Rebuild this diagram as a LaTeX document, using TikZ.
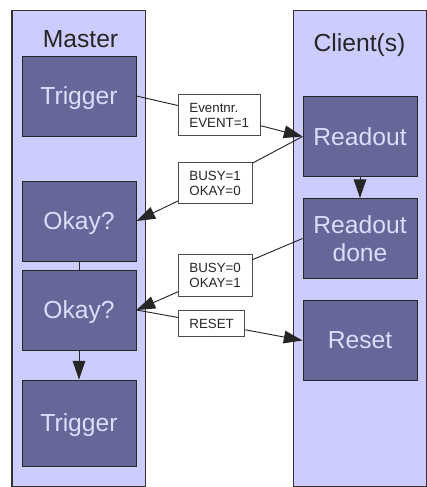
\documentclass[tikz,border=0pt]{standalone}
\usepackage{fontspec}
\setmainfont{Liberation Sans}
\usepackage{tikz}
\usetikzlibrary{arrows.meta,positioning}
\definecolor{lanebg}{RGB}{204,204,255}
\definecolor{stepfill}{RGB}{102,102,153}
\definecolor{steptext}{RGB}{220,220,252}
\definecolor{mygray}{RGB}{50,50,50}

\begin{document}
\begin{tikzpicture}[x=0.75pt, y=-0.75pt, >={Triangle[length=14pt,width=9.5pt]},
  lane/.style={draw=mygray, fill=lanebg, line width=0.75pt, inner sep=0pt,
               minimum width=99.75pt, minimum height=357pt},
  lanetitle/.style={anchor=base, font=\fontsize{18.5}{22}\selectfont, text=black!85},
  stepbox/.style={draw=black!85, fill=stepfill, line width=0.75pt, inner sep=0pt,
                  minimum width=85.5pt, minimum height=60pt, align=center,
                  font=\fontsize{18.5}{21}\selectfont, text=steptext},
  onerow/.style={stepbox, text depth=0pt},
  msgbox/.style={draw=black!70, fill=white, line width=0.6pt, anchor=west,
                 inner xsep=8.25pt, inner ysep=6.5pt, align=left,
                 font=\fontsize{10}{11.25}\selectfont, text=black!85},
  link/.style={draw=black!85, line width=0.7pt}]

  \useasboundingbox (0,0) rectangle (427,487);

  % the two lanes
  \node[lane] (master) at (78.5,248) {};
  \node[lane] (client) at (359.5,248) {};
  \node[lanetitle] (mtitle) at (80.5,47) {Master};
  \node[lanetitle] (ctitle) at (359.5,51) {Client(s)};

  % master side
  \node[onerow] (trig1) at (79,96) {Trigger};
  \node[onerow, below=33pt of trig1] (okay1) {Okay?};
  \node[onerow, below=6pt of okay1] (okay2) {Okay?};
  \node[onerow, minimum height=64.5pt, below=21.75pt of okay2] (trig2) {Trigger};

  % client side
  \node[onerow] (readout) at (360,136.5) {Readout};
  \node[stepbox, below=15.75pt of readout] (rdone) {Readout\\done};
  \node[onerow, below=15.75pt of rdone] (reset) {Reset};

  % messages
  \node[msgbox] (evmsg) at (178,115) {Eventnr.\\EVENT=1};
  \node[msgbox] (busymsg) at (178,183) {BUSY=1\\OKAY=0};
  \node[msgbox] (okmsg) at (178,275.5) {BUSY=0\\OKAY=1};
  \node[msgbox] (rstmsg) at (178,323.5) {RESET};

  \draw[link] (trig1.east) -- (evmsg);
  \draw[link, ->] (evmsg) -- (readout.west);
  \draw[link] (readout.west) -- (busymsg);
  \draw[link, ->] (busymsg) -- (okay1.east);
  \draw[link] (rdone.west) -- (okmsg);
  \draw[link, ->] (okmsg) -- (okay2.east);
  \draw[link] (okay2.east) -- (rstmsg);
  \draw[link, ->] (rstmsg) -- (reset.west);

  \draw[link] (okay1) -- (okay2);
  \draw[link, ->] (okay2) -- (trig2);
  \draw[link, ->] (readout) -- (rdone);

\end{tikzpicture}
\end{document}
